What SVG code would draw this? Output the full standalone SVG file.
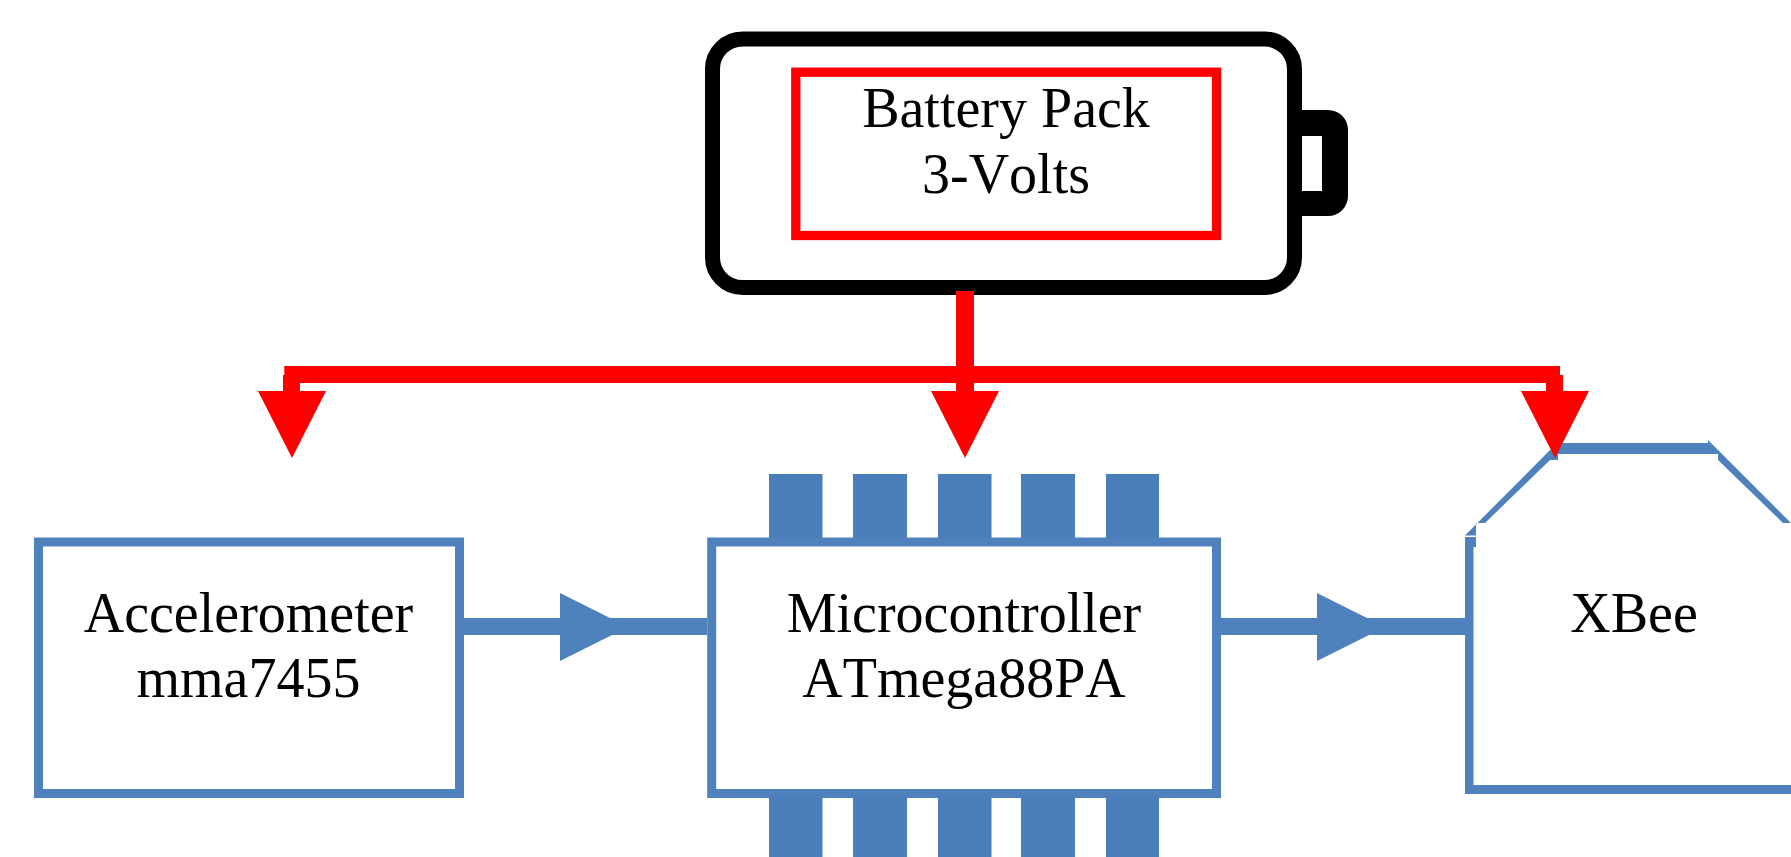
<svg xmlns="http://www.w3.org/2000/svg" width="1791" height="857" viewBox="0 0 1791 857">
<style>
.lbl{font-family:"Liberation Serif","Times New Roman",serif;font-size:56px;fill:#000;text-anchor:middle;font-kerning:none}
.box{fill:#fff;stroke:#4f81bd;stroke-width:9}
.pin{fill:#4a7ebb}
.blue{fill:#4f81bd}
.red{fill:#f00}
</style>
<rect width="1791" height="857" fill="#fff"/>
<g id="battery">
<path d="M1295 110H1328A20 20 0 0 1 1348 130V196A20 20 0 0 1 1328 216H1295ZM1302 136V191H1322V136Z" fill="#000" fill-rule="evenodd"/>
<rect x="712.500" y="39" width="582" height="248.500" rx="30" ry="30" fill="#fff" stroke="#000" stroke-width="15"/>
<rect x="795.800" y="72.200" width="420.700" height="163.300" fill="#fff" stroke="#f00" stroke-width="9.300"/>
<text class="lbl" x="1006" y="127">Battery Pack</text>
<text class="lbl" x="1006" y="192.500">3-Volts</text>
</g>
<g id="accelerometer">
<rect class="box" x="38.5" y="542" width="421" height="251.500"/>
<text class="lbl" x="248.500" y="632">Accelerometer</text>
<text class="lbl" x="248.500" y="697">mma7455</text>
</g>
<g id="microcontroller">
<rect class="pin" x="769" y="474" width="53.500" height="66"/>
<rect class="pin" x="853" y="474" width="54" height="66"/>
<rect class="pin" x="938" y="474" width="53.500" height="66"/>
<rect class="pin" x="1021" y="474" width="54" height="66"/>
<rect class="pin" x="1106" y="474" width="53" height="66"/>
<rect class="pin" x="769" y="795" width="53.500" height="62"/>
<rect class="pin" x="853" y="795" width="54" height="62"/>
<rect class="pin" x="938" y="795" width="53.500" height="62"/>
<rect class="pin" x="1021" y="795" width="54" height="62"/>
<rect class="pin" x="1106" y="795" width="53" height="62"/>
<rect class="box" x="711.700" y="542" width="504.800" height="251.500"/>
<text class="lbl" x="964" y="632">Microcontroller</text>
<text class="lbl" x="964" y="697">ATmega88PA</text>
</g>
<g id="xbee">
<path class="blue" d="M1465 537H1476V547H1473.500V785H1791V794H1465Z"/>
<path class="blue" d="M1465 535.500L1550 450H1558V443H1708V440L1791 523H1783L1718 460V454H1558V460H1550L1485 523H1476V535.500Z"/>
<text class="lbl" x="1634" y="632">XBee</text>
</g>
<g id="connectors">
<path class="red" d="M956 291H974V366H1560V375H1563V391H1546V383H974V391H956V383H300V391H283V375H284.300V366H956Z"/>
<polygon class="red" points="258,391 326,391 292,458"/>
<polygon class="red" points="931,391 999,391 965,458"/>
<polygon class="red" points="1521,391 1589,391 1555,458"/>
<rect class="blue" x="464" y="618" width="243" height="17"/>
<polygon class="blue" points="560,593 628,627 560,661"/>
<rect class="blue" x="1221" y="618" width="244" height="17"/>
<polygon class="blue" points="1317,593 1385,627 1317,661"/>
</g>
</svg>
